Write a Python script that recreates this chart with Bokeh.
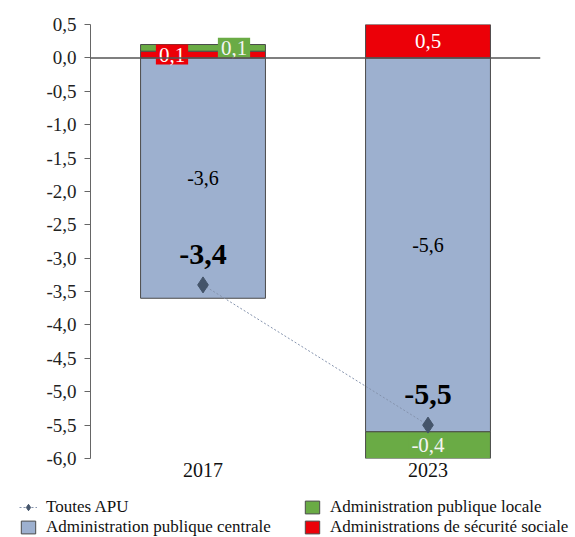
from bokeh.plotting import figure
from bokeh.layouts import column
from bokeh.models import (FactorRange, Range1d, FixedTicker, CustomJSTickFormatter,
                          ColumnDataSource, Legend, LegendItem, Span)
from bokeh.core.properties import value
from bokeh.embed import file_html
from bokeh.resources import INLINE

# ---- data ----
years = ["2017", "2023"]
apu_centrale = [-3.6, -5.6]
apu_locale = [0.1, -0.4]
asso = [0.1, 0.5]
toutes_apu = [-3.4, -5.5]
y_ticks = [0.5, 0.0, -0.5, -1.0, -1.5, -2.0, -2.5, -3.0, -3.5, -4.0, -4.5, -5.0, -5.5, -6.0]

FONT = "Liberation Serif"
BLUE = "#9DB0CF"
RED = "#EC0008"
GREEN = "#6AAB45"
DARK = "#44546A"
LINE = "#8593AD"
EDGE = "#4a4a4a"

# stacking
cen_top = [0.0, 0.0]
cen_bot = apu_centrale
asso_bot = [0.0 if a >= 0 else c for a, c in zip(asso, apu_centrale)]
asso_top = [b + a for b, a in zip(asso_bot, asso)]
loc_bot = []
for l, a, c in zip(apu_locale, asso, apu_centrale):
    if l >= 0:
        loc_bot.append(max(a, 0.0))
    else:
        loc_bot.append(c + min(a, 0.0))
loc_top = [b + l for b, l in zip(loc_bot, apu_locale)]

def fmt(v):
    return ("%.1f" % v).replace(".", ",")

p = figure(x_range=FactorRange(*years), y_range=Range1d(-6.0, 0.5),
           width=575, height=488, output_backend="svg", toolbar_location=None,
           min_border_left=90, min_border_right=35, min_border_top=24, min_border_bottom=30)
p.outline_line_color = None
p.xgrid.grid_line_color = None
p.ygrid.grid_line_color = None

bw = 0.555
src_c = ColumnDataSource(dict(x=years, top=cen_top, bottom=cen_bot))
src_a = ColumnDataSource(dict(x=years, top=asso_top, bottom=asso_bot))
src_l = ColumnDataSource(dict(x=years, top=loc_top, bottom=loc_bot))
src_apu = ColumnDataSource(dict(x=years, y=toutes_apu))
p.vbar(x="x", top="top", bottom="bottom", width=bw, source=src_c,
       fill_color=BLUE, line_color=EDGE, line_width=1)
p.vbar(x="x", top="top", bottom="bottom", width=bw, source=src_a,
       fill_color=RED, line_color=EDGE, line_width=1)
p.vbar(x="x", top="top", bottom="bottom", width=bw, source=src_l,
       fill_color=GREEN, line_color=EDGE, line_width=1)

p.add_layout(Span(location=0, dimension="width", line_color="#555555", line_width=1.5))

p.line(x="x", y="y", source=src_apu, line_color=LINE, line_width=1, line_dash="2 2")
p.scatter(x="x", y="y", source=src_apu, marker="diamond", size=16, fill_color=DARK, line_color=DARK)

# labels
lab_c = ColumnDataSource(dict(x=years, y=[(t + b) / 2 for t, b in zip(cen_top, cen_bot)],
                              t=[fmt(v) for v in apu_centrale]))
p.text(x="x", y="y", text="t", source=lab_c, text_font=value(FONT), text_font_size="20px",
       text_color="black", text_align="center", text_baseline="middle")

lab_a = ColumnDataSource(dict(x=years, y=[(t + b) / 2 for t, b in zip(asso_top, asso_bot)],
                              t=[fmt(v) for v in asso], xo=[-31, 0]))
p.text(x="x", y="y", text="t", source=lab_a, x_offset="xo", text_font=value(FONT),
       text_font_size="21px", text_color="white", text_align="center",
       text_baseline="middle", background_fill_color=RED, padding=3)

lab_l = ColumnDataSource(dict(x=years, y=[(t + b) / 2 for t, b in zip(loc_top, loc_bot)],
                              t=[fmt(v) for v in apu_locale], xo=[31, 0]))
p.text(x="x", y="y", text="t", source=lab_l, x_offset="xo", text_font=value(FONT),
       text_font_size="21px", text_color="#f4f4f4", text_align="center",
       text_baseline="middle", background_fill_color=GREEN, padding=3)

lab_apu = ColumnDataSource(dict(x=years, y=toutes_apu, t=[fmt(v) for v in toutes_apu]))
p.text(x="x", y="y", text="t", source=lab_apu, y_offset=-21, text_font=value(FONT),
       text_font_size="30px", text_font_style="bold", text_color="black",
       text_align="center", text_baseline="bottom")

# axes
p.yaxis.ticker = FixedTicker(ticks=y_ticks)
p.yaxis.formatter = CustomJSTickFormatter(code="return tick.toFixed(1).replace('.', ',');")
p.yaxis.major_label_text_font = FONT
p.yaxis.major_label_text_font_size = "19px"
p.yaxis.major_label_text_color = "#222222"
p.yaxis.axis_line_color = "#666666"
p.yaxis.major_tick_line_color = "#666666"
p.yaxis.major_tick_in = 0
p.yaxis.major_tick_out = 6
p.yaxis.minor_tick_line_color = None
p.yaxis.major_label_standoff = 8

p.xaxis.axis_line_color = None
p.xaxis.major_tick_line_color = None
p.xaxis.minor_tick_line_color = None
p.xaxis.major_label_text_font = FONT
p.xaxis.major_label_text_font_size = "20px"
p.xaxis.major_label_text_color = "#111111"
p.xaxis.major_label_standoff = -2

# legend in its own strip below the chart (its glyphs use the same data, out of view)
lg = figure(width=575, height=49, output_backend="svg", toolbar_location=None,
            x_range=FactorRange(*years), y_range=Range1d(50, 51),
            x_axis_location=None, y_axis_location=None, min_border=0,
            min_border_left=0, min_border_right=0, min_border_top=0, min_border_bottom=0)
if "frame_align" in lg.properties():
    lg.frame_align = False
lg.outline_line_color = None
lg.xgrid.grid_line_color = None
lg.ygrid.grid_line_color = None
e_line = lg.line(x="x", y="y", source=src_apu, line_color=LINE, line_width=1, line_dash="2 2")
e_mark = lg.scatter(x="x", y="y", source=src_apu, marker="diamond", size=16, fill_color=DARK, line_color=DARK)
e_c = lg.vbar(x="x", top="top", bottom="bottom", width=bw, source=src_c, fill_color=BLUE, line_color=EDGE)
e_l = lg.vbar(x="x", top="top", bottom="bottom", width=bw, source=src_l, fill_color=GREEN, line_color=EDGE)
e_a = lg.vbar(x="x", top="top", bottom="bottom", width=bw, source=src_a, fill_color=RED, line_color=EDGE)

legend = Legend(items=[
    LegendItem(label="Toutes APU", renderers=[e_line, e_mark]),
    LegendItem(label="Administration publique centrale", renderers=[e_c]),
    LegendItem(label="Administration publique locale", renderers=[e_l]),
    LegendItem(label="Administrations de sécurité sociale", renderers=[e_a]),
], ncols=2, label_text_font=FONT, label_text_font_size="17px", label_text_color="#111111",
    glyph_width=18, glyph_height=16, label_height=16, label_width=257, label_standoff=9,
    spacing=0, padding=1, margin=0,
    border_line_color=None, background_fill_alpha=0, location=(19, 0))
lg.add_layout(legend)

open("out.html", "w").write(file_html(column(p, lg, spacing=0), INLINE))
